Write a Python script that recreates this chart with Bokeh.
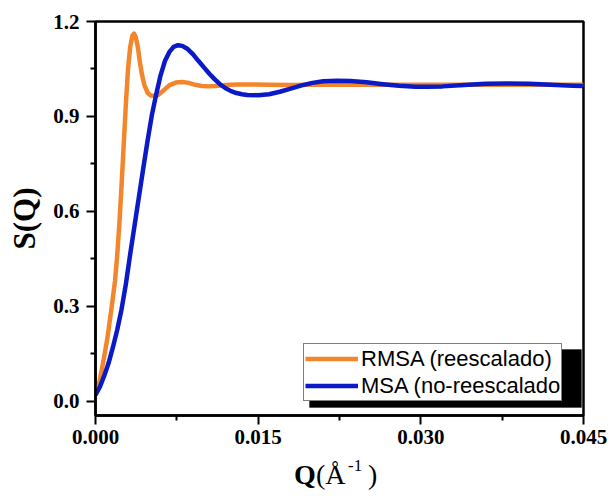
from bokeh.plotting import figure
from bokeh.layouts import column
from bokeh.models import (FixedTicker, PrintfTickFormatter, Legend, Div,
                          LegendItem, BoxAnnotation, Range1d)
from bokeh.embed import file_html
from bokeh.resources import INLINE

# ---- data ----
q_rmsa = [0.0, 0.0003, 0.00074, 0.0011, 0.0015, 0.0018, 0.0020, 0.0022, 0.0024, 0.0026,
          0.0028, 0.0030, 0.0032, 0.0034, 0.00355, 0.0037, 0.0039, 0.0041, 0.0043, 0.0045,
          0.0048, 0.0051, 0.0055, 0.0058, 0.0062, 0.0068, 0.0074, 0.0080, 0.0086, 0.0092,
          0.0098, 0.0104, 0.0110, 0.0120, 0.0130, 0.0145, 0.0160, 0.0180, 0.0200, 0.0250,
          0.0300, 0.0350, 0.0400, 0.0450]
s_rmsa = [0.025, 0.05, 0.129, 0.2, 0.3, 0.38, 0.46, 0.56, 0.68, 0.81,
          0.94, 1.05, 1.12, 1.155, 1.162, 1.152, 1.12, 1.07, 1.03, 1.0,
          0.975, 0.966, 0.965, 0.968, 0.98, 0.998, 1.007, 1.009, 1.006, 1.0,
          0.996, 0.995, 0.996, 0.999, 1.001, 1.001, 1.0, 0.999, 1.0, 1.0,
          1.0, 1.0, 1.0, 1.0]

q_msa = [0.0, 0.0004, 0.0008, 0.0012, 0.0016, 0.0020, 0.0024, 0.0028, 0.0032, 0.0036,
         0.0040, 0.0044, 0.0048, 0.0052, 0.0056, 0.0060, 0.0064, 0.0068, 0.0072, 0.0076,
         0.0080, 0.0085, 0.0090, 0.0095, 0.0100, 0.0105, 0.0110, 0.0115, 0.0120, 0.0125,
         0.0130, 0.0135, 0.0140, 0.0150, 0.0160, 0.0170, 0.0180, 0.0190, 0.0200, 0.0210,
         0.0223, 0.0235, 0.0250, 0.0265, 0.0280, 0.0295, 0.0305, 0.0320, 0.0340, 0.0360,
         0.0380, 0.0400, 0.0420, 0.0440, 0.0450]
s_msa = [0.02, 0.045, 0.08, 0.12, 0.17, 0.225, 0.29, 0.37, 0.465, 0.555,
         0.645, 0.735, 0.823, 0.905, 0.97, 1.03, 1.075, 1.103, 1.12, 1.125,
         1.123, 1.113, 1.096, 1.075, 1.055, 1.035, 1.017, 1.001, 0.989, 0.98,
         0.974, 0.97, 0.968, 0.967, 0.97, 0.978, 0.988, 0.998, 1.006, 1.011,
         1.013, 1.012, 1.008, 1.002, 0.997, 0.994, 0.994, 0.995, 0.999, 1.003,
         1.004, 1.003, 1.0, 0.997, 0.996]

x_ticks = [0.0, 0.015, 0.030, 0.045]
x_minor = [0.0075, 0.0225, 0.0375]
y_ticks = [0.0, 0.3, 0.6, 0.9, 1.2]
y_minor = [0.15, 0.45, 0.75, 1.05]
series_labels = ["RMSA (reescalado)", "MSA (no-reescalado"]
colors = ["#F3862C", "#0A1AC6"]

X0, X1 = 0.0, 0.045
Y0, Y1 = -0.045, 1.2

p = figure(width=612, height=456, output_backend="svg", toolbar_location=None,
           x_range=Range1d(X0, X1), y_range=Range1d(Y0, Y1),
           min_border_left=95, min_border_right=29, min_border_top=21, min_border_bottom=41,
           margin=0)
p.background_fill_color = "white"
p.border_fill_color = "white"
p.xgrid.visible = False
p.ygrid.visible = False
p.outline_line_color = "black"
p.outline_line_width = 2.5

for ax in (p.xaxis[0], p.yaxis[0]):
    ax.axis_line_width = 2.5
    ax.major_tick_line_width = 2
    ax.minor_tick_line_width = 2
    ax.major_tick_in = 0
    ax.major_tick_out = 9
    ax.minor_tick_in = 0
    ax.minor_tick_out = 5
    ax.major_label_text_font = "Liberation Serif"
    ax.major_label_text_font_style = "bold"
    ax.major_label_text_font_size = "21px"
    ax.major_label_text_color = "black"

p.xaxis[0].ticker = FixedTicker(ticks=x_ticks, minor_ticks=x_minor)
p.yaxis[0].ticker = FixedTicker(ticks=y_ticks, minor_ticks=y_minor)
p.xaxis[0].formatter = PrintfTickFormatter(format="%.3f")
p.yaxis[0].formatter = PrintfTickFormatter(format="%.1f")
p.xaxis[0].major_label_standoff = 5
p.yaxis[0].major_label_standoff = 7

# y-axis title
p.yaxis[0].axis_label = "S(Q)"
p.yaxis[0].axis_label_text_font = "Liberation Serif"
p.yaxis[0].axis_label_text_font_style = "bold"
p.yaxis[0].axis_label_text_font_size = "31px"
p.yaxis[0].axis_label_text_color = "black"
p.yaxis[0].axis_label_standoff = 8

r1 = p.line(q_rmsa, s_rmsa, line_color=colors[0], line_width=4.5, line_join="round")
r2 = p.line(q_msa, s_msa, line_color=colors[1], line_width=4.5, line_join="round")

# legend shadow (frame px -> data)
fw, fh = 488, 394
def dx(px):
    return X0 + (X1 - X0) * px / fw
def dy(py):
    return Y0 + (Y1 - Y0) * py / fh

shadow = BoxAnnotation(left=dx(214), right=dx(486), bottom=dy(8), top=dy(66),
                       fill_color="black", fill_alpha=1.0, line_color="black")
p.add_layout(shadow)

legend = Legend(items=[LegendItem(label=series_labels[0], renderers=[r1]),
                       LegendItem(label=series_labels[1], renderers=[r2])],
                location=(208, 14))
legend.label_text_font = "Liberation Sans"
legend.label_text_font_size = "22px"
legend.label_text_color = "black"
legend.glyph_width = 53
legend.glyph_height = 27
legend.label_height = 27
legend.label_standoff = 3
legend.padding = 1
legend.spacing = 0
legend.margin = 0
legend.border_line_color = "black"
legend.border_line_width = 1
legend.background_fill_color = "white"
legend.background_fill_alpha = 1.0
p.add_layout(legend, "center")

# x-axis title: bold Q, regular (Å, superscript -1, regular )
font = "font-family:'Liberation Serif',serif;color:black;line-height:1;white-space:nowrap;position:absolute;"
xtitle = (
    '<div style="position:relative;width:612px;height:40px;">'
    f'<span style="{font}font-size:28px;font-weight:bold;left:294px;top:5px;">Q</span>'
    f'<span style="{font}font-size:28px;left:316px;top:5px;">(Å</span>'
    f'<span style="{font}font-size:17px;left:348px;top:1px;">-1</span>'
    f'<span style="{font}font-size:28px;left:368px;top:5px;">)</span>'
    '</div>'
)
div = Div(text=xtitle, width=612, height=40, margin=0)

layout = column(p, div, spacing=0, margin=0)
open("out.html", "w").write(file_html(layout, INLINE))
